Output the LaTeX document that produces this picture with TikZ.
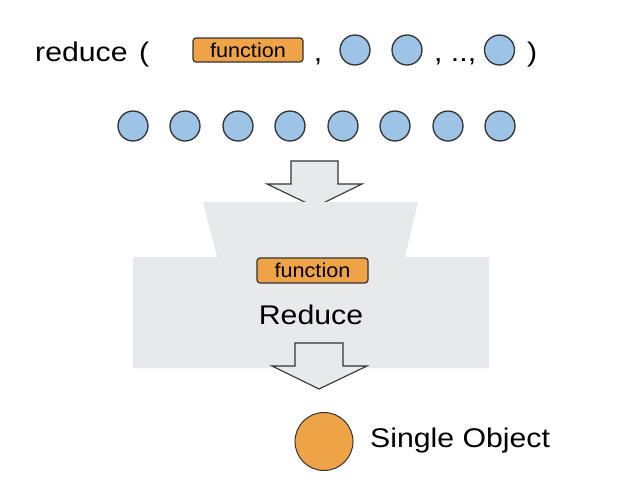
\documentclass[tikz,border=0pt]{standalone}
\usepackage{graphicx}
\usepackage{fontspec}
\setmainfont{Liberation Sans}
\definecolor{blueobj}{HTML}{9DC3E6}
\definecolor{orangeobj}{HTML}{EFA347}
\definecolor{panel}{HTML}{E7E9EA}
\definecolor{edge}{HTML}{333333}
\newcommand{\wtxt}[1]{\scalebox{1.12}[1]{#1}}
\newcommand{\ftxt}[1]{\scalebox{1.08}[1]{#1}}
\tikzset{
  x=1pt, y=-1pt,
  bigtxt/.style={inner sep=0pt, font=\fontsize{27}{30}\selectfont},
  fnbox/.style={draw=edge, line width=1.2pt, fill=orangeobj, rounded corners=3pt, inner sep=0pt, font=\fontsize{20}{22}\selectfont},
  bluedot/.style={circle, draw=edge, line width=1.3pt, fill=blueobj, minimum size=30pt, inner sep=0pt},
  orangedot/.style={circle, draw=edge, line width=1pt, fill=orangeobj, minimum size=58pt, inner sep=0pt},
  bigarrow/.style={draw=edge, line width=1.1pt, fill=panel},
}
\begin{document}
\begin{tikzpicture}
\useasboundingbox (0,0) rectangle (638,501);
% top row
\node[bigtxt, anchor=base west] (red) at (35,61) {\wtxt{reduce}};
\node[bigtxt, anchor=base west] (lp) at (139,61) {\wtxt{(}};
\node[fnbox, minimum width=110pt, minimum height=24pt] (f1) at (248,50) {\ftxt{function}};
\node[bigtxt, anchor=base] (c1) at (318,61) {\wtxt{,}};
\node[bluedot] (a1) at (355,50) {};
\node[bluedot] (a2) at (407,50) {};
\node[bigtxt, anchor=base west] (dots) at (434,61) {\wtxt{, ..,}};
\node[bluedot] (a3) at (499.5,50) {};
\node[bigtxt, anchor=base west] (rp) at (527,61) {\wtxt{)}};
% row of objects
\foreach \i/\x in {1/133,2/185,3/238,4/290,5/343,6/395,7/448,8/500}
  \node[bluedot] (b\i) at (\x,126) {};
% arrow into reduce
\draw[bigarrow] (291,161) -- (338,161) -- (338,184) -- (362,184) -- (315,207) -- (267,184) -- (291,184) -- cycle;
% reduce panel
\fill[panel] (203,202) -- (418,202) -- (405,257) -- (489,257) -- (489,368) -- (133,368) -- (133,257) -- (217,257) -- cycle;
\node[fnbox, minimum width=111pt, minimum height=25pt] (f2) at (312.5,270.5) {\ftxt{function}};
\node[bigtxt, anchor=base] (rd) at (311,324) {\wtxt{Reduce}};
% arrow out
\draw[bigarrow] (295,343) -- (343,343) -- (343,366) -- (367,366) -- (319,389) -- (272,366) -- (295,366) -- cycle;
% result
\node[orangedot] (res) at (324,441.5) {};
\node[bigtxt, anchor=base west] (so) at (370,447) {\wtxt{Single Object}};
\end{tikzpicture}
\end{document}
